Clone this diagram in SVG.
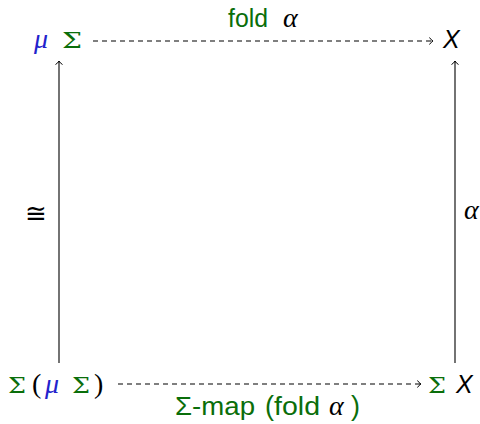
<svg xmlns="http://www.w3.org/2000/svg" width="480" height="424" viewBox="0 0 480 424">
<style>
.t{font-size:25px;font-family:"Liberation Sans",Arial,sans-serif}
.m{font-family:"Liberation Serif","DejaVu Serif",serif;font-style:italic;font-size:28px}
.S{font-family:"DejaVu Serif","Liberation Serif",serif;font-size:22px}
.p{font-family:"Liberation Serif","DejaVu Serif",serif;font-size:28px}
.g{fill:#0a6e0a}
.b{fill:#2222cc}
.k{fill:#000}
.i{font-style:italic}
.c{stroke:#000;stroke-width:1.1;fill:none}
.d{stroke-dasharray:5 4}
</style>
<defs>
<marker id="ah" markerWidth="10" markerHeight="10" refX="6" refY="5" orient="auto" markerUnits="userSpaceOnUse">
<path d="M2.5,1.5 Q4,4 6,5 Q4,6 2.5,8.5" stroke="#000" stroke-width="1" fill="none"/>
</marker>
</defs>
<g id="connectors">
<line class="c d" x1="93" y1="41" x2="433" y2="41" marker-end="url(#ah)"/>
<line class="c d" x1="118" y1="384" x2="421" y2="384" marker-end="url(#ah)"/>
<line class="c" x1="59" y1="363" x2="59" y2="61" marker-end="url(#ah)"/>
<line class="c" x1="455" y1="363" x2="455" y2="61" marker-end="url(#ah)"/>
<text class="t g" x="228" y="27" textLength="40" lengthAdjust="spacingAndGlyphs">fold</text>
<text class="m k" x="283" y="27">α</text>
<text class="t g" x="175" y="415" textLength="80" lengthAdjust="spacingAndGlyphs">Σ-map</text>
<text class="t g" x="265" y="415" style="font-size:27px">(</text>
<text class="t g" x="274" y="415" textLength="46" lengthAdjust="spacingAndGlyphs">fold</text>
<text class="m k" x="329" y="415">α</text>
<text class="t g" x="351" y="415" style="font-size:27px">)</text>
<text class="k" x="25" y="222" style="font-family:'DejaVu Sans',sans-serif;font-size:26px">≅</text>
<text class="m k" x="464" y="219">α</text>
</g>
<g id="muSigma">
<text class="m b" x="34" y="48">μ</text>
<text class="S g" x="62" y="48" textLength="20" lengthAdjust="spacingAndGlyphs">Σ</text>
</g>
<g id="X">
<text class="t i k" x="443" y="48">X</text>
</g>
<g id="SigmaMuSigma">
<text class="S g" x="8" y="393" textLength="18" lengthAdjust="spacingAndGlyphs">Σ</text>
<text class="p k" x="32" y="393">(</text>
<text class="m b" x="45" y="393">μ</text>
<text class="S g" x="72" y="393" textLength="18" lengthAdjust="spacingAndGlyphs">Σ</text>
<text class="p k" x="94" y="393">)</text>
</g>
<g id="SigmaX">
<text class="S g" x="428" y="393" textLength="18" lengthAdjust="spacingAndGlyphs">Σ</text>
<text class="t i k" x="456" y="393">X</text>
</g>
</svg>
